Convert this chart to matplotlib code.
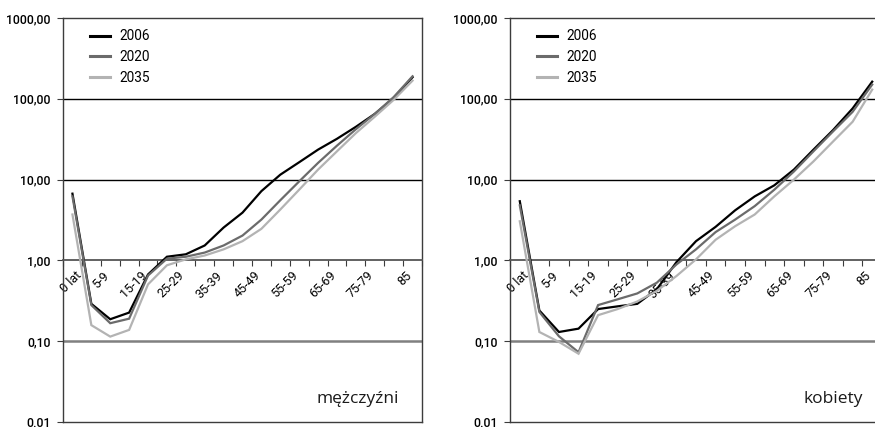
import numpy as np
import matplotlib
matplotlib.use("Agg")
import matplotlib.pyplot as plt
import matplotlib.font_manager as fm
from matplotlib.ticker import FixedLocator, FixedFormatter, NullLocator
from matplotlib.transforms import ScaledTranslation

categories = ["0 lat", "1-4", "5-9", "10-14", "15-19", "20-24", "25-29", "30-34",
              "35-39", "40-44", "45-49", "50-54", "55-59", "60-64", "65-69",
              "70-74", "75-79", "80-84", "85"]
years = ["2006", "2020", "2035"]

men_2006 = [6.7, 0.29, 0.187, 0.226, 0.67, 1.11, 1.19, 1.53, 2.55, 3.9, 7.2,
            11.5, 16.4, 23.5, 32, 45, 65, 102, 185]
men_2020 = [6.2, 0.28, 0.167, 0.19, 0.65, 1.05, 1.11, 1.25, 1.53, 2.03, 3.2,
            5.55, 9.5, 16.1, 26.3, 42, 65, 105, 190]
men_2035 = [3.7, 0.158, 0.114, 0.138, 0.505, 0.87, 1.03, 1.15, 1.37, 1.73, 2.46,
            4.26, 7.5, 13.3, 22.4, 37.6, 60, 97, 168]

women_2006 = [5.4, 0.24, 0.13, 0.143, 0.25, 0.27, 0.29, 0.44, 0.95, 1.73, 2.6,
              4.17, 6.2, 8.5, 13.3, 23.5, 41, 76, 163]
women_2020 = [4.8, 0.23, 0.115, 0.073, 0.28, 0.33, 0.39, 0.53, 0.89, 1.37, 2.24,
              3.2, 4.7, 7.5, 12.6, 22.4, 39.5, 69, 150]
women_2035 = [3.05, 0.13, 0.098, 0.07, 0.21, 0.25, 0.31, 0.42, 0.64, 1.03, 1.8,
              2.65, 3.7, 6.2, 10, 16.8, 29.6, 52, 130]

ytick_vals = [0.01, 0.1, 1, 10, 100, 1000]
ytick_labels = ["0.01", "0,10", "1,00", "10,00", "100,00", "1000,00"]
panel_titles = ["mężczyźni", "kobiety"]

# fonts
avail = {f.name for f in fm.fontManager.ttflist}
if "Liberation Sans Narrow" in avail:
    cond = dict(family="Liberation Sans Narrow")
elif "Roboto" in avail:
    cond = dict(family="Roboto")
else:
    cond = dict(family="Liberation Sans")
title_font = "Open Sans" if "Open Sans" in avail else "DejaVu Sans"

colors = ["#000000", "#6b6b6b", "#b3b3b3"]
W, H = 875, 429
fig = plt.figure(figsize=(W / 100, H / 100), dpi=100)

panels = [
    ((63, 422, 18, 422), [men_2006, men_2020, men_2035]),
    ((510, 882, 18, 422), [women_2006, women_2020, women_2035]),
]

x = np.arange(len(categories))
for p, ((l, r, t, b), series) in enumerate(panels):
    ax = fig.add_axes([l / W, (H - b) / H, (r - l) / W, (b - t) / H])
    ax.set_yscale("log")
    ax.set_ylim(0.01, 1000)
    ax.set_xlim(-0.5, len(categories) - 0.5)
    for yv in (10, 100):
        ax.axhline(yv, color="#000000", lw=1.0, zorder=1)
    ax.axhline(0.1, color="#808080", lw=1.8, zorder=1)
    for s, c, lab in zip(series, colors, years):
        ax.plot(x, s, color=c, lw=1.6, label=lab, zorder=3, solid_joinstyle="miter")

    for side in ("left", "right", "top"):
        ax.spines[side].set_color("#3c3c3c")
        ax.spines[side].set_linewidth(1.0)
    ax.spines["bottom"].set_position(("data", 1))
    ax.spines["bottom"].set_color("#555555")
    ax.spines["bottom"].set_linewidth(1.3)
    ax.axhline(0.01, color="#3c3c3c", lw=1.0, clip_on=False, zorder=4)

    ax.yaxis.set_major_locator(FixedLocator(ytick_vals))
    ax.yaxis.set_major_formatter(FixedFormatter(ytick_labels))
    ax.yaxis.set_minor_locator(NullLocator())
    ax.tick_params(axis="y", which="major", length=4, width=0.8, color="#3c3c3c",
                   pad=5, labelsize=8.8)
    for lbl in ax.get_yticklabels():
        lbl.set(**cond)
        lbl.set_fontweight("medium")

    major = list(range(0, len(categories), 2))
    ax.xaxis.set_major_locator(FixedLocator(major))
    ax.xaxis.set_major_formatter(FixedFormatter([categories[i] for i in major]))
    ax.xaxis.set_minor_locator(FixedLocator(np.arange(-0.5, len(categories), 1.0)))
    ax.tick_params(axis="x", which="major", length=0, pad=9.5, labelsize=9.0)
    ax.tick_params(axis="x", which="minor", length=4, width=0.8, color="#3c3c3c")
    for i, lbl in enumerate(ax.get_xticklabels()):
        lbl.set(rotation=45, ha="right", va="center", rotation_mode="anchor", **cond)
        dx = 7 if i == 0 else -3
        lbl.set_transform(lbl.get_transform() + ScaledTranslation(dx / 100, 0, fig.dpi_scale_trans))

    leg = ax.legend(loc="upper left", bbox_to_anchor=(27 / (r - l), 0.972), frameon=False,
                    borderpad=0, borderaxespad=0, handlelength=1.45, handletextpad=0.7,
                    labelspacing=0.5, prop=fm.FontProperties(size=9.8, **cond))
    for ln in leg.get_lines():
        ln.set_linewidth(2.2)

    ax.text(0.935 if p == 0 else 0.95, 0.058, panel_titles[p], transform=ax.transAxes,
            ha="right", va="center", fontsize=12.5, family=title_font, color="#1a1a1a")

fig.savefig("out.png", dpi=100)
